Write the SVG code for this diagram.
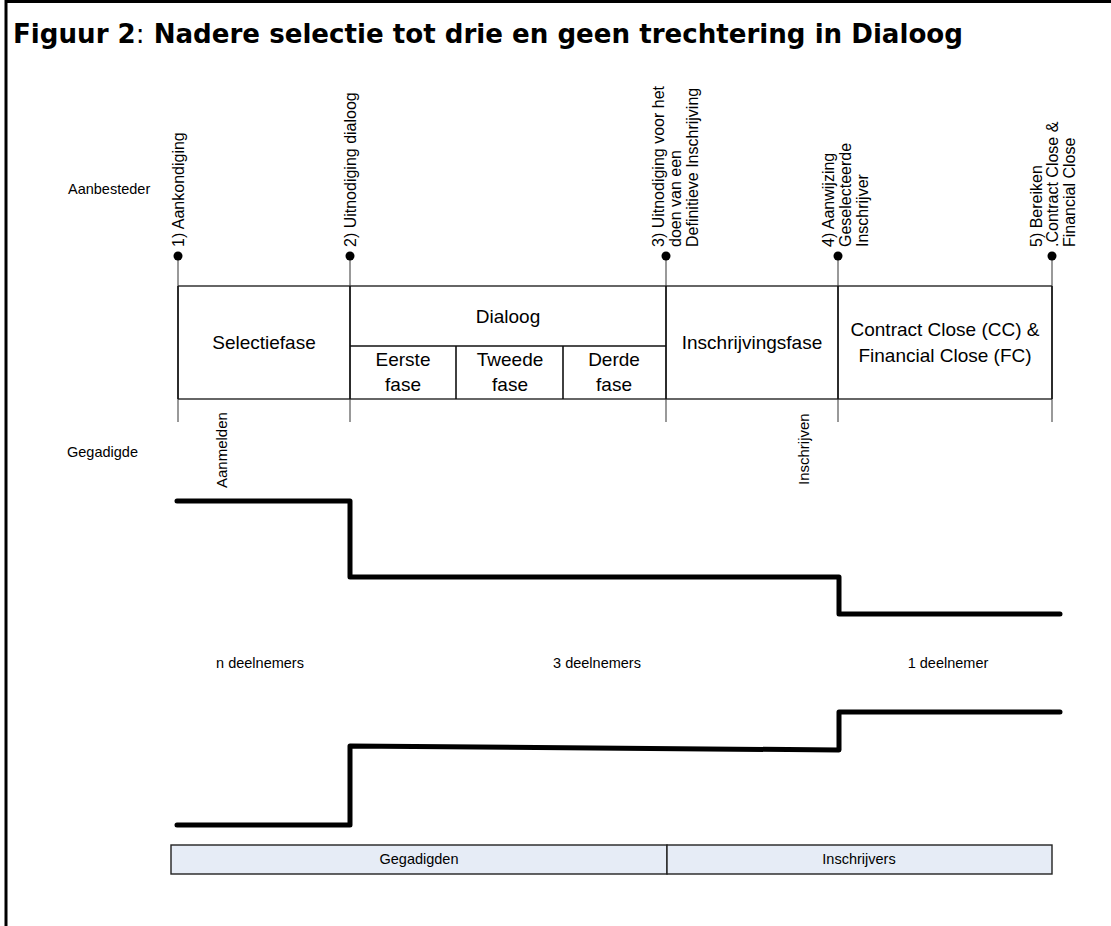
<svg xmlns="http://www.w3.org/2000/svg" width="1111" height="926" viewBox="0 0 1111 926">
<style>
  text { font-family: "Liberation Sans", Arial, sans-serif; fill: #000; }
  .title { font-family: "DejaVu Sans", Verdana, sans-serif; font-weight: bold; font-size: 26px; }
  .lane { font-size: 14.5px; }
  .ms { font-size: 16px; }
  .act { font-size: 15px; }
  .phase { font-size: 19px; text-anchor: middle; }
  .count { font-size: 14.5px; text-anchor: middle; }
  .barlabel { font-size: 14.5px; text-anchor: middle; }
  .tick { stroke: #555; stroke-width: 1.2; fill: none; }
  .boxline { stroke: #333; stroke-width: 1.5; fill: none; }
  .boxv { stroke: #111; stroke-width: 1.6; fill: none; }
  .dot { fill: #000; }
  .step { stroke: #000; stroke-width: 5; fill: none; stroke-linecap: round; stroke-linejoin: round; }
  .bar { fill: #e6ecf6; stroke: #222; stroke-width: 1.4; }
</style>

<g id="frame">
  <polyline points="6,926 6,1.5 1111,1.5" fill="none" stroke="#000" stroke-width="3"/>
</g>

<g id="title">
  <text class="title" x="13" y="43" textLength="950" lengthAdjust="spacingAndGlyphs">Figuur 2<tspan font-weight="normal">:</tspan> Nadere selectie tot drie en geen trechtering in Dialoog</text>
</g>

<g id="lane-labels">
  <text id="lbl-aanbesteder" class="lane" x="68" y="194">Aanbesteder</text>
  <text id="lbl-gegadigde" class="lane" x="67" y="457">Gegadigde</text>
</g>

<g id="connectors">
  <line class="tick" x1="178" y1="256" x2="178" y2="422"/>
  <line class="tick" x1="350" y1="256" x2="350" y2="422"/>
  <line class="tick" x1="666" y1="256" x2="666" y2="422"/>
  <line class="tick" x1="838" y1="256" x2="838" y2="422"/>
  <line class="tick" x1="1052" y1="256" x2="1052" y2="422"/>
</g>

<g id="milestone-1">
  <circle class="dot" cx="178" cy="256" r="4.5"/>
  <text class="ms" transform="translate(183.5,247) rotate(-90)">1) Aankondiging</text>
</g>
<g id="milestone-2">
  <circle class="dot" cx="350" cy="256" r="4.5"/>
  <text class="ms" transform="translate(355.5,247) rotate(-90)">2) Uitnodiging dialoog</text>
</g>
<g id="milestone-3">
  <circle class="dot" cx="666" cy="256" r="4.5"/>
  <text class="ms" transform="translate(664,247) rotate(-90)"><tspan x="0" y="0">3) Uitnodiging voor het</tspan><tspan x="0" y="17">doen van een</tspan><tspan x="0" y="34">Definitieve Inschrijving</tspan></text>
</g>
<g id="milestone-4">
  <circle class="dot" cx="838" cy="256" r="4.5"/>
  <text class="ms" transform="translate(833.5,247) rotate(-90)"><tspan x="0" y="0">4) Aanwijzing</tspan><tspan x="0" y="17">Geselecteerde</tspan><tspan x="0" y="34">Inschrijver</tspan></text>
</g>
<g id="milestone-5">
  <circle class="dot" cx="1052" cy="256" r="4.5"/>
  <text class="ms" transform="translate(1041.5,247) rotate(-90)"><tspan x="0" y="0">5) Bereiken</tspan><tspan x="0" y="16.5">.Contract Close &amp;</tspan><tspan x="0" y="33">Financial Close</tspan></text>
</g>

<g id="phases">
  <line class="boxline" x1="178" y1="286" x2="1052" y2="286"/>
  <line class="boxline" x1="178" y1="399" x2="1052" y2="399"/>
  <line class="boxv" x1="178" y1="286" x2="178" y2="399"/>
  <line class="boxv" x1="350" y1="286" x2="350" y2="399"/>
  <line class="boxv" x1="666" y1="286" x2="666" y2="399"/>
  <line class="boxv" x1="838" y1="286" x2="838" y2="399"/>
  <line class="boxv" x1="1052" y1="286" x2="1052" y2="399"/>
</g>
<g id="phase-selectiefase">
  <text class="phase" x="264" y="349">Selectiefase</text>
</g>
<g id="phase-dialoog">
  <line class="boxv" x1="350" y1="346" x2="666" y2="346"/>
  <line class="boxv" x1="456" y1="346" x2="456" y2="399"/>
  <line class="boxv" x1="563" y1="346" x2="563" y2="399"/>
  <text class="phase" x="508" y="323">Dialoog</text>
</g>
<g id="phase-eerste">
  <text class="phase" x="403" y="366">Eerste</text>
  <text class="phase" x="403" y="391">fase</text>
</g>
<g id="phase-tweede">
  <text class="phase" x="510" y="366">Tweede</text>
  <text class="phase" x="510" y="391">fase</text>
</g>
<g id="phase-derde">
  <text class="phase" x="614" y="366">Derde</text>
  <text class="phase" x="614" y="391">fase</text>
</g>
<g id="phase-inschrijvingsfase">
  <text class="phase" x="752" y="349">Inschrijvingsfase</text>
</g>
<g id="phase-close">
  <text class="phase" x="945" y="336">Contract Close (CC) &amp;</text>
  <text class="phase" x="945" y="362">Financial Close (FC)</text>
</g>

<g id="actions">
  <text id="act-aanmelden" class="act" transform="translate(227,488) rotate(-90)">Aanmelden</text>
  <text id="act-inschrijven" class="act" transform="translate(809,485) rotate(-90)">Inschrijven</text>
</g>

<g id="step-lines">
  <polyline class="step" points="177,501 350,501 350,577 839,577 839,614 1060,614"/>
  <polyline class="step" points="177,825 350,825 350,746 839,750 839,712 1060,712"/>
</g>

<g id="counts">
  <text class="count" x="260" y="668">n deelnemers</text>
  <text class="count" x="597" y="668">3 deelnemers</text>
  <text class="count" x="948" y="668">1 deelnemer</text>
</g>

<g id="bar-gegadigden">
  <rect class="bar" x="171" y="845" width="496" height="29"/>
  <text class="barlabel" x="419" y="864">Gegadigden</text>
</g>
<g id="bar-inschrijvers">
  <rect class="bar" x="667" y="845" width="385" height="29"/>
  <text class="barlabel" x="859" y="864">Inschrijvers</text>
</g>
</svg>
